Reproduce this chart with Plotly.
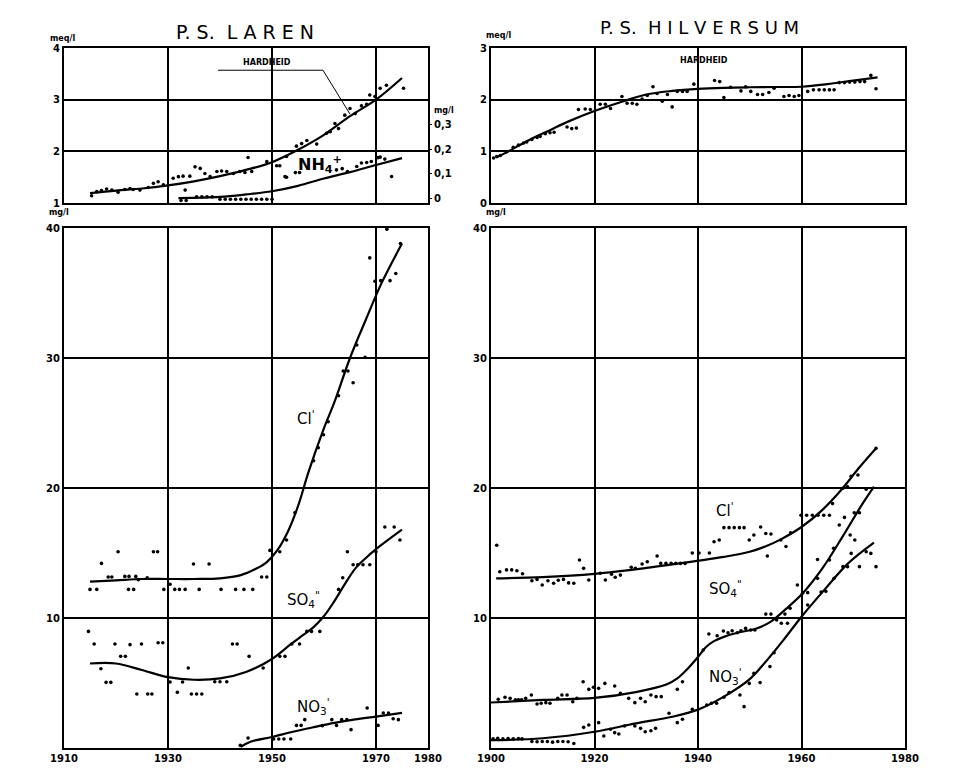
import plotly.graph_objects as go

# ---------------- DATA ----------------
# P.S. Laren - hardness (meq/l)
laren_hard_curve_years = [1915, 1920, 1925, 1930, 1935, 1940, 1945, 1950, 1955, 1960, 1965, 1970, 1975]
laren_hard_curve = [1.19, 1.24, 1.28, 1.34, 1.42, 1.52, 1.64, 1.79, 2.03, 2.32, 2.68, 3.0, 3.42]
laren_hard_years = [1915.3, 1916.3, 1917.2, 1918.2, 1919.2, 1920.4, 1921.7, 1922.7, 1923.3, 1924.6,
                    1926.2, 1927.2, 1928.1, 1929.1, 1931.0, 1932.0, 1932.9, 1933.3, 1934.2, 1935.2,
                    1936.2, 1937.1, 1938.1, 1939.4, 1940.3, 1941.3, 1942.6, 1943.8, 1944.8, 1945.4,
                    1946.1, 1949.0, 1950.9, 1951.5, 1952.8, 1954.7, 1955.7, 1956.7, 1958.6, 1960.5,
                    1961.2, 1962.1, 1962.8, 1964.0, 1965.0, 1966.0, 1967.2, 1968.2, 1968.8, 1969.8,
                    1970.8, 1972.0, 1975.3, 1952.5]
laren_hard_vals = [1.14, 1.22, 1.24, 1.27, 1.25, 1.21, 1.26, 1.28, 1.26, 1.25,
                   1.30, 1.38, 1.41, 1.35, 1.48, 1.51, 1.52, 1.25, 1.52, 1.70,
                   1.67, 1.57, 1.51, 1.61, 1.62, 1.61, 1.57, 1.61, 1.59, 1.88,
                   1.61, 1.80, 1.72, 1.72, 1.90, 2.10, 2.15, 2.21, 2.14, 2.35,
                   2.38, 2.54, 2.44, 2.70, 2.83, 2.73, 2.88, 2.91, 3.09, 3.06,
                   3.22, 3.28, 3.22, 1.51]

# P.S. Laren - NH4+ (mg/l)
laren_nh4_curve_years = [1932, 1940, 1945, 1950, 1955, 1960, 1965, 1970, 1975]
laren_nh4_curve = [0.0, 0.005, 0.015, 0.028, 0.05, 0.08, 0.106, 0.135, 0.163]
laren_nh4_years = [1932.5, 1933.5, 1935.5, 1936.5, 1937.5, 1938.5,
                   1940, 1941, 1942, 1943, 1944, 1945, 1946, 1947, 1948, 1949, 1950,
                   1952.8, 1954.5, 1955.3,
                   1962.4, 1963.5, 1964.5, 1966.3, 1967.2, 1968.2, 1969.1, 1970.4, 1970.8, 1971.7, 1973.0]
laren_nh4_vals = [-0.01, -0.01, 0.005, 0.005, 0.005, 0.005,
                  -0.005, -0.005, -0.005, -0.005, -0.005, -0.005, -0.005, -0.005, -0.005, -0.005, -0.005,
                  0.085, 0.104, 0.104,
                  0.115, 0.12, 0.108, 0.129, 0.143, 0.145, 0.149, 0.165, 0.167, 0.159, 0.088]

# P.S. Laren - Cl', SO4'', NO3' (mg/l)
laren_cl_curve_years = [1915, 1920, 1925, 1930, 1935, 1940, 1944, 1947, 1949, 1951, 1953, 1955, 1957, 1960, 1962, 1965, 1968, 1971, 1975]
laren_cl_curve = [12.8, 12.9, 13.0, 13.0, 13.0, 13.05, 13.3, 13.8, 14.3, 15.2, 16.6, 18.6, 21.2, 24.6, 26.6, 30.0, 32.9, 35.7, 38.8]
laren_cl_years = [1915.0, 1916.3, 1917.2, 1918.5, 1919.2, 1920.4, 1921.7, 1922.4, 1922.5, 1923.4,
                  1923.8, 1924.3, 1926.0, 1927.2, 1928.0, 1929.2, 1930.4, 1931.3, 1932.2, 1933.3,
                  1934.9, 1936.0, 1937.9, 1940.2, 1943.0, 1944.6, 1946.3, 1948.0, 1949.0, 1949.6,
                  1951.5, 1952.8, 1954.4, 1958.0, 1958.9, 1959.9, 1960.8, 1962.8, 1963.7, 1964.6,
                  1965.6, 1966.3, 1967.9, 1968.8, 1969.8, 1970.9, 1972.1, 1972.7, 1973.8, 1974.7]
laren_cl_vals = [12.2, 12.2, 14.2, 13.15, 13.15, 15.1, 13.2, 12.2, 13.2, 12.2,
                 13.2, 12.95, 13.1, 15.1, 15.1, 12.2, 12.6, 12.2, 12.2, 12.2,
                 14.15, 12.2, 14.15, 12.2, 12.2, 12.2, 12.2, 13.15, 13.15, 15.2,
                 15.1, 16.0, 18.1, 22.1, 23.1, 24.1, 25.1, 27.1, 29.0, 29.0,
                 28.1, 31.0, 30.05, 37.7, 35.9, 35.95, 39.9, 35.95, 36.5, 38.8]

laren_so4_curve_years = [1915, 1920, 1925, 1930, 1935, 1940, 1945, 1950, 1953.5, 1956, 1958, 1960, 1962, 1964, 1966, 1968, 1970, 1975]
laren_so4_curve = [6.5, 6.5, 6.0, 5.45, 5.25, 5.35, 5.85, 6.85, 7.95, 8.7, 9.3, 10.15, 11.3, 12.6, 13.8, 14.6, 15.3, 16.8]
laren_so4_years = [1914.7, 1915.8, 1917.1, 1918.1, 1919.0, 1919.8, 1920.9, 1921.8, 1922.7, 1924.0,
                   1924.9, 1926.1, 1926.9, 1928.1, 1929.0, 1930.4, 1931.8, 1932.8, 1933.9, 1934.5,
                   1935.5, 1936.5, 1939.0, 1940.0, 1941.3, 1942.4, 1943.3, 1945.6, 1948.3, 1951.5,
                   1952.5, 1953.8, 1955.3, 1956.7, 1957.6, 1959.2, 1962.8, 1963.6, 1964.5, 1965.6,
                   1966.5, 1967.5, 1968.8, 1970.0, 1971.7, 1973.5, 1974.6]
laren_so4_vals = [8.97, 8.0, 6.1, 5.05, 5.05, 8.0, 7.05, 7.05, 7.95, 4.15,
                  8.0, 4.15, 4.15, 8.1, 8.1, 5.08, 4.28, 5.08, 6.15, 4.15,
                  4.15, 4.15, 5.1, 5.1, 5.1, 8.0, 8.0, 7.05, 6.15, 7.05,
                  7.05, 8.0, 8.0, 8.97, 8.97, 8.97, 12.2, 13.1, 15.1, 14.1,
                  14.1, 14.1, 14.1, 15.1, 17.0, 17.0, 16.0]

laren_no3_curve_years = [1944, 1946, 1950, 1954, 1958, 1962, 1966, 1970, 1975]
laren_no3_curve = [0.1, 0.5, 0.85, 1.25, 1.6, 1.93, 2.2, 2.42, 2.7]
laren_no3_years = [1943.9, 1945.4, 1950.3, 1951.3, 1952.3, 1953.6, 1954.7, 1955.6, 1956.3, 1959.7,
                   1961.5, 1962.4, 1963.4, 1964.4, 1965.2, 1968.3, 1970.4, 1971.4, 1972.4, 1973.3, 1974.3]
laren_no3_vals = [0.2, 0.77, 0.69, 0.69, 0.69, 0.69, 1.74, 1.74, 2.18, 1.72,
                  2.18, 1.74, 2.18, 2.18, 1.41, 3.08, 1.74, 2.69, 2.69, 2.25, 2.18]

# P.S. Hilversum - hardness (meq/l)
hil_hard_curve_years = [1901, 1903, 1907, 1911.4, 1915, 1920, 1925, 1930, 1935, 1940, 1945, 1950, 1955, 1960, 1965, 1970, 1974.7]
hil_hard_curve = [0.88, 0.98, 1.2, 1.41, 1.58, 1.78, 1.95, 2.10, 2.17, 2.21, 2.23, 2.24, 2.245, 2.25, 2.30, 2.37, 2.43]
hil_hard_years = [1900.5, 1901.1, 1901.8, 1903.0, 1904.3, 1905.3, 1906.3, 1906.9, 1907.9, 1908.9,
                  1909.5, 1910.5, 1911.4, 1912.2, 1914.7, 1915.6, 1916.5, 1916.9, 1918.2, 1919.2,
                  1921.1, 1922.1, 1923.1, 1925.3, 1926.3, 1927.3, 1928.2, 1929.2, 1930.2, 1931.3,
                  1932.1, 1933.1, 1934.1, 1935.0, 1936.0, 1937.0, 1937.9, 1939.2, 1943.2, 1944.2,
                  1945.0, 1946.3, 1948.3, 1949.2, 1950.2, 1951.5, 1952.5, 1953.7, 1954.7, 1956.6,
                  1957.6, 1958.6, 1959.5, 1961.2, 1962.3, 1963.4, 1964.4, 1965.4, 1966.3, 1967.3,
                  1968.3, 1969.3, 1970.3, 1971.3, 1972.2, 1973.4, 1974.4]
hil_hard_vals = [0.87, 0.9, 0.92, 0.99, 1.08, 1.12, 1.16, 1.18, 1.23, 1.27,
                 1.29, 1.34, 1.36, 1.37, 1.47, 1.44, 1.45, 1.81, 1.82, 1.81,
                 1.91, 1.91, 1.83, 2.06, 1.93, 1.93, 1.91, 2.01, 2.08, 2.25,
                 2.12, 1.97, 2.10, 1.86, 2.16, 2.16, 2.16, 2.30, 2.37, 2.35,
                 2.04, 2.24, 2.17, 2.25, 2.16, 2.10, 2.10, 2.14, 2.22, 2.06,
                 2.08, 2.06, 2.08, 2.16, 2.19, 2.19, 2.19, 2.19, 2.19, 2.33,
                 2.33, 2.34, 2.34, 2.35, 2.35, 2.47, 2.21]

# P.S. Hilversum - Cl', SO4'', NO3' (mg/l)
hil_cl_curve_years = [1901, 1910, 1920, 1930, 1940, 1945, 1950, 1953, 1956, 1960, 1964, 1968, 1971, 1974.5]
hil_cl_curve = [13.05, 13.15, 13.4, 13.85, 14.4, 14.7, 15.1, 15.5, 16.05, 17.0, 18.3, 20.0, 21.5, 23.1]
hil_cl_years = [1901.1, 1901.7, 1903.0, 1904.0, 1905.0, 1906.1, 1907.9, 1908.9, 1909.9, 1911.0,
                1912.1, 1913.0, 1914.0, 1915.0, 1916.0, 1917.1, 1917.9, 1918.9, 1921.1, 1922.1,
                1923.3, 1924.0, 1925.0, 1927.1, 1927.9, 1929.2, 1930.2, 1932.1, 1932.8, 1933.8,
                1934.8, 1935.7, 1936.6, 1937.5, 1938.9, 1940.2, 1942.2, 1943.1, 1944.1, 1945.0,
                1946.0, 1947.0, 1948.0, 1948.9, 1949.9, 1950.8, 1952.1, 1953.1, 1953.4, 1954.1,
                1956.0, 1957.0, 1957.9, 1959.9, 1961.0, 1962.1, 1963.2, 1964.3, 1965.4, 1966.0,
                1968.0, 1968.9, 1969.6, 1970.9, 1974.4]
hil_cl_vals = [15.6, 13.56, 13.7, 13.7, 13.64, 13.4, 12.87, 12.97, 12.54, 12.87,
               12.67, 12.9, 12.97, 12.7, 12.67, 14.46, 13.82, 12.92, 13.44, 12.92,
               13.36, 13.13, 13.3, 13.9, 13.82, 14.15, 14.33, 14.77, 14.2, 14.2,
               14.2, 14.2, 14.2, 14.2, 15.0, 15.0, 15.0, 15.87, 16.0, 16.95,
               16.95, 16.95, 16.95, 16.95, 16.0, 16.38, 17.0, 16.5, 14.77, 16.46,
               16.0, 15.5, 16.56, 17.9, 17.9, 17.9, 17.9, 17.9, 17.9, 18.8,
               19.98, 20.1, 20.9, 21.0, 23.05]

hil_so4_curve_years = [1900, 1910, 1920, 1928, 1934, 1936, 1938, 1940, 1941.5, 1943, 1945, 1948, 1951, 1954, 1957, 1960, 1964, 1968, 1971.5, 1974]
hil_so4_curve = [3.5, 3.7, 3.85, 4.3, 4.9, 5.35, 6.1, 7.0, 7.75, 8.2, 8.55, 8.9, 9.15, 9.7, 10.7, 11.8, 13.8, 16.3, 18.6, 20.1]
hil_so4_years = [1901.4, 1902.7, 1903.7, 1904.7, 1905.3, 1905.9, 1906.7, 1907.8, 1908.9, 1909.7,
                 1910.6, 1911.4, 1912.9, 1913.7, 1914.7, 1915.8, 1916.6, 1917.8, 1918.9, 1919.8,
                 1920.8, 1922.0, 1923.9, 1925.0, 1926.6, 1927.8, 1928.9, 1929.8, 1930.9, 1931.9,
                 1932.9, 1936.0, 1937.0, 1941.0, 1942.1, 1943.7, 1944.9, 1945.8, 1946.6, 1947.6,
                 1948.3, 1949.2, 1950.2, 1951.0, 1953.1, 1954.1, 1955.2, 1956.1, 1957.3, 1956.8,
                 1957.8, 1959.2, 1960.2, 1961.2, 1961.2, 1963.1, 1963.1, 1965.4, 1966.2, 1967.3,
                 1968.3, 1969.4, 1970.3, 1970.2, 1971.2, 1972.5]
hil_so4_vals = [3.75, 3.9, 3.82, 3.7, 3.7, 3.7, 3.82, 4.08, 3.38, 3.44,
                3.49, 3.44, 3.82, 4.08, 4.08, 3.56, 3.82, 5.1, 4.51, 4.67,
                4.59, 4.97, 4.77, 4.21, 3.82, 3.49, 3.82, 3.56, 4.08, 3.95,
                3.95, 4.51, 5.1, 7.54, 8.77, 8.64, 9.0, 8.87, 9.02, 8.87,
                9.02, 9.2, 9.08, 9.08, 10.3, 10.3, 9.85, 9.6, 9.6, 10.3,
                10.75, 12.54, 11.9, 11.95, 11.0, 13.05, 14.5, 14.46, 15.36, 17.15,
                17.74, 16.38, 16.0, 18.1, 18.1, 19.9]

hil_no3_curve_years = [1900, 1910, 1920, 1928, 1935, 1940, 1945, 1950, 1953, 1956.5, 1960, 1964.5, 1969, 1974]
hil_no3_curve = [0.6, 0.75, 1.25, 1.9, 2.4, 2.95, 3.95, 5.3, 6.6, 8.3, 10.1, 12.2, 14.2, 15.8]
hil_no3_years = [1900.4, 1901.3, 1902.3, 1903.3, 1904.3, 1905.3, 1906.0, 1907.9, 1908.9, 1909.9,
                 1910.9, 1911.9, 1912.9, 1913.9, 1914.9, 1916.0, 1917.9, 1918.9, 1920.8, 1921.8,
                 1923.1, 1923.9, 1924.7, 1925.8, 1927.8, 1928.9, 1929.8, 1930.9, 1931.8, 1934.4,
                 1936.0, 1937.0, 1938.9, 1941.7, 1942.6, 1943.6, 1945.0, 1946.0, 1948.1, 1948.9,
                 1949.9, 1950.8, 1952.0, 1953.9, 1954.7, 1963.8, 1964.7, 1966.3, 1968.0, 1968.9,
                 1969.6, 1971.2, 1972.5, 1973.4, 1974.4]
hil_no3_vals = [0.7, 0.75, 0.7, 0.72, 0.7, 0.72, 0.7, 0.5, 0.48, 0.5,
                0.5, 0.45, 0.5, 0.5, 0.48, 0.35, 1.59, 1.77, 1.95, 0.92,
                1.44, 1.18, 1.08, 1.69, 1.69, 1.51, 1.25, 1.33, 1.51, 2.67,
                1.95, 2.21, 2.97, 3.3, 3.44, 3.44, 3.9, 4.26, 4.08, 3.18,
                4.97, 5.74, 5.03, 6.26, 7.33, 12.0, 12.05, 13.05, 13.95, 13.95,
                14.97, 13.95, 15.1, 14.97, 13.95]

# ---------------- FIGURE ----------------
OFF = 8                      # page body offset of the figure
W, H = 967 - OFF, 775 - OFF  # figure size so that it fills the window
def fx(p):
    return (p - OFF) / W
def fy(p):
    return 1 - (p - OFF) / H

FONT = "DejaVu Sans"
fig = go.Figure()

def add_pts(x, y, xa, ya):
    fig.add_trace(go.Scatter(x=x, y=y, mode="markers", xaxis=xa, yaxis=ya,
                             marker=dict(color="black", size=3.6),
                             showlegend=False, hoverinfo="skip", cliponaxis=True))

def add_curve(x, y, xa, ya):
    fig.add_trace(go.Scatter(x=x, y=y, mode="lines", xaxis=xa, yaxis=ya,
                             line=dict(color="black", width=2.2, shape="spline", smoothing=1.0),
                             showlegend=False, hoverinfo="skip"))

# Laren top
add_curve(laren_hard_curve_years, laren_hard_curve, "x", "y")
add_pts(laren_hard_years, laren_hard_vals, "x", "y")
add_curve(laren_nh4_curve_years, laren_nh4_curve, "x", "y5")
add_pts(laren_nh4_years, laren_nh4_vals, "x", "y5")
# Laren bottom
add_curve(laren_cl_curve_years, laren_cl_curve, "x2", "y2")
add_pts(laren_cl_years, laren_cl_vals, "x2", "y2")
add_curve(laren_so4_curve_years, laren_so4_curve, "x2", "y2")
add_pts(laren_so4_years, laren_so4_vals, "x2", "y2")
add_curve(laren_no3_curve_years, laren_no3_curve, "x2", "y2")
add_pts(laren_no3_years, laren_no3_vals, "x2", "y2")
# Hilversum top
add_curve(hil_hard_curve_years, hil_hard_curve, "x3", "y3")
add_pts(hil_hard_years, hil_hard_vals, "x3", "y3")
# Hilversum bottom
add_curve(hil_cl_curve_years, hil_cl_curve, "x4", "y4")
add_pts(hil_cl_years, hil_cl_vals, "x4", "y4")
add_curve(hil_so4_curve_years, hil_so4_curve, "x4", "y4")
add_pts(hil_so4_years, hil_so4_vals, "x4", "y4")
add_curve(hil_no3_curve_years, hil_no3_curve, "x4", "y4")
add_pts(hil_no3_years, hil_no3_vals, "x4", "y4")

tickfont = dict(family=FONT, size=10, color="black")
common = dict(showline=True, linecolor="black", linewidth=2, mirror=True,
              showgrid=True, gridcolor="black", gridwidth=1.5, zeroline=False,
              ticks="", tickfont=tickfont, fixedrange=True, automargin=False)

L = [fx(64), fx(428)]
R = [fx(491), fx(905)]
TOP = [fy(203), fy(48)]
BOT = [fy(748), fy(228)]

def bold(vals):
    return ["<b>%s</b>" % v for v in vals]

fig.update_layout(
    width=W, height=H, margin=dict(l=0, r=0, t=0, b=0, pad=0),
    paper_bgcolor="white", plot_bgcolor="white",
    xaxis=dict(common, domain=L, anchor="y", range=[1910, 1980],
               tickvals=[1930, 1950, 1970], showticklabels=False),
    yaxis=dict(common, domain=TOP, anchor="x", range=[1, 4],
               tickvals=[1, 2, 3, 4], ticktext=bold([1, 2, 3, 4])),
    yaxis5=dict(overlaying="y", anchor="x", side="right", range=[-0.02, 0.612],
                tickvals=[0, 0.1, 0.2, 0.3], ticktext=bold(["0", "0,1", "0,2", "0,3"]),
                showgrid=False, showline=False, zeroline=False, ticks="outside",
                ticklen=3, tickcolor="black", tickfont=tickfont, fixedrange=True,
                automargin=False),
    xaxis2=dict(common, domain=L, anchor="y2", range=[1910, 1980],
                tickvals=[1910, 1930, 1950, 1970, 1980],
                ticktext=bold([1910, 1930, 1950, 1970, 1980])),
    yaxis2=dict(common, domain=BOT, anchor="x2", range=[0, 40],
                tickvals=[10, 20, 30, 40], ticktext=bold([10, 20, 30, 40])),
    xaxis3=dict(common, domain=R, anchor="y3", range=[1900, 1980],
                tickvals=[1920, 1940, 1960], showticklabels=False),
    yaxis3=dict(common, domain=TOP, anchor="x3", range=[0, 3],
                tickvals=[0, 1, 2, 3], ticktext=bold(["0", 1, 2, 3])),
    xaxis4=dict(common, domain=R, anchor="y4", range=[1900, 1980],
                tickvals=[1900, 1920, 1940, 1960, 1980],
                ticktext=bold([1900, 1920, 1940, 1960, 1980])),
    yaxis4=dict(common, domain=BOT, anchor="x4", range=[0, 40],
                tickvals=[10, 20, 30, 40], ticktext=bold([10, 20, 30, 40])),
)

def ann(text, x, y, xref, yref, size, xanchor="center", yanchor="middle"):
    fig.add_annotation(text=text, x=x, y=y, xref=xref, yref=yref, showarrow=False,
                       xanchor=xanchor, yanchor=yanchor,
                       font=dict(family=FONT, size=size, color="black"))

# titles
ann("P. S.  L A R E N", fx(245), fy(32), "paper", "paper", 19)
ann("P. S.  H I L V E R S U M", fx(699), fy(28), "paper", "paper", 18)
# unit labels
ann("<b>meq/l</b>", fx(48), fy(38), "paper", "paper", 8, xanchor="left")
ann("<b>mg/l</b>", fx(47), fy(212), "paper", "paper", 8, xanchor="left")
ann("<b>meq/l</b>", fx(484), fy(36), "paper", "paper", 8, xanchor="left")
ann("<b>mg/l</b>", fx(484), fy(212), "paper", "paper", 8, xanchor="left")
ann("<b>mg/l</b>", fx(432), fy(110), "paper", "paper", 8, xanchor="left")

# series labels
ann("<b>HARDHEID</b>", 1949, 3.71, "x", "y", 8)
fig.add_shape(type="path", xref="x", yref="y",
              path="M 1939.6,3.57 L 1959.8,3.57 L 1965,2.72",
              line=dict(color="black", width=1))
ann("<b>NH<sub>4</sub><sup>+</sup></b>", 1959.2, 1.74, "x", "y", 16)
ann("Cl<sup>'</sup>", 1956.5, 25.4, "x2", "y2", 15)
ann("SO<sub>4</sub><sup>\"</sup>", 1956.0, 11.4, "x2", "y2", 15)
ann("NO<sub>3</sub><sup>'</sup>", 1957.9, 3.2, "x2", "y2", 15)

ann("<b>HARDHEID</b>", 1941.1, 2.75, "x3", "y3", 8)
ann("Cl<sup>'</sup>", 1945.3, 18.3, "x4", "y4", 15)
ann("SO<sub>4</sub><sup>\"</sup>", 1945.3, 12.3, "x4", "y4", 15)
ann("NO<sub>3</sub><sup>'</sup>", 1945.3, 5.5, "x4", "y4", 15)

fig.write_html("out.html")
